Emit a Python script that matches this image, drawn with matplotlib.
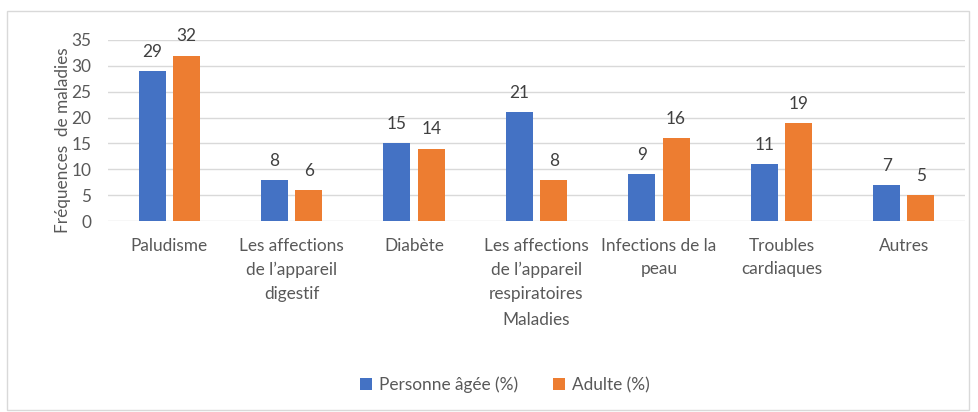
import matplotlib
matplotlib.use("Agg")
import matplotlib.pyplot as plt
import numpy as np
from matplotlib.patches import Rectangle

categories = ["Paludisme", "Les affections\nde l\u2019appareil\ndigestif", "Diabète",
              "Les affections\nde l\u2019appareil\nrespiratoires", "Infections de la\npeau",
              "Troubles\ncardiaques", "Autres"]
personne_agee = [29, 8, 15, 21, 9, 11, 7]
adulte = [32, 6, 14, 8, 16, 19, 5]
series_names = ["Personne âgée (%)", "Adulte (%)"]
yticks = [0, 5, 10, 15, 20, 25, 30, 35]

plt.rcParams['font.family'] = ['Lato', 'DejaVu Sans']
txt = '#595959'
blue = '#4472C4'
orange = '#ED7D31'
fs = 12.4

fig = plt.figure(figsize=(9.79, 4.12), dpi=100)
W, H = 979, 412
fig.patches.append(Rectangle((7/W, 2/H), 962/W, (H-13)/H, transform=fig.transFigure,
                             fill=False, edgecolor='#d9d9d9', linewidth=1))
ax = fig.add_axes([108/W, 1-221/H, (965-108)/W, 181/H])

x = np.arange(len(categories))
bw = 0.22
off = 0.14
b1 = ax.bar(x - off, personne_agee, bw, color=blue, label=series_names[0], zorder=3)
b2 = ax.bar(x + off, adulte, bw, color=orange, label=series_names[1], zorder=3)
for bars in (b1, b2):
    ax.bar_label(bars, padding=8, fontsize=fs, color='#404040')

ax.set_xlim(-0.5, len(categories) - 0.5)
ax.set_ylim(0, 35)
ax.set_yticks(yticks)
ax.set_xticks(x)
ax.set_xticklabels(categories, fontsize=fs, color=txt, linespacing=1.6, va='top')
ax.tick_params(axis='y', labelsize=fs, labelcolor=txt, length=0, pad=12)
ax.tick_params(axis='x', length=0, pad=12)
ax.grid(axis='y', color='#d9d9d9', linewidth=1, zorder=0)
for s in ax.spines.values():
    s.set_visible(False)
fig.text(63/W, 1-140/H, "Fréquences  de maladies", fontsize=fs, color=txt,
         rotation=90, ha='center', va='center')
fig.text(536/W, 1-320/H, "Maladies", fontsize=fs, color=txt, ha='center', va='center')

fig.legend(handles=[b1, b2], labels=series_names, loc='center', bbox_to_anchor=(505/W, 1-385/H),
           ncol=2, frameon=False, fontsize=fs, labelcolor=txt, handlelength=0.7, handleheight=0.7,
           columnspacing=2.0, handletextpad=0.4)

fig.savefig("out.png", dpi=100)
